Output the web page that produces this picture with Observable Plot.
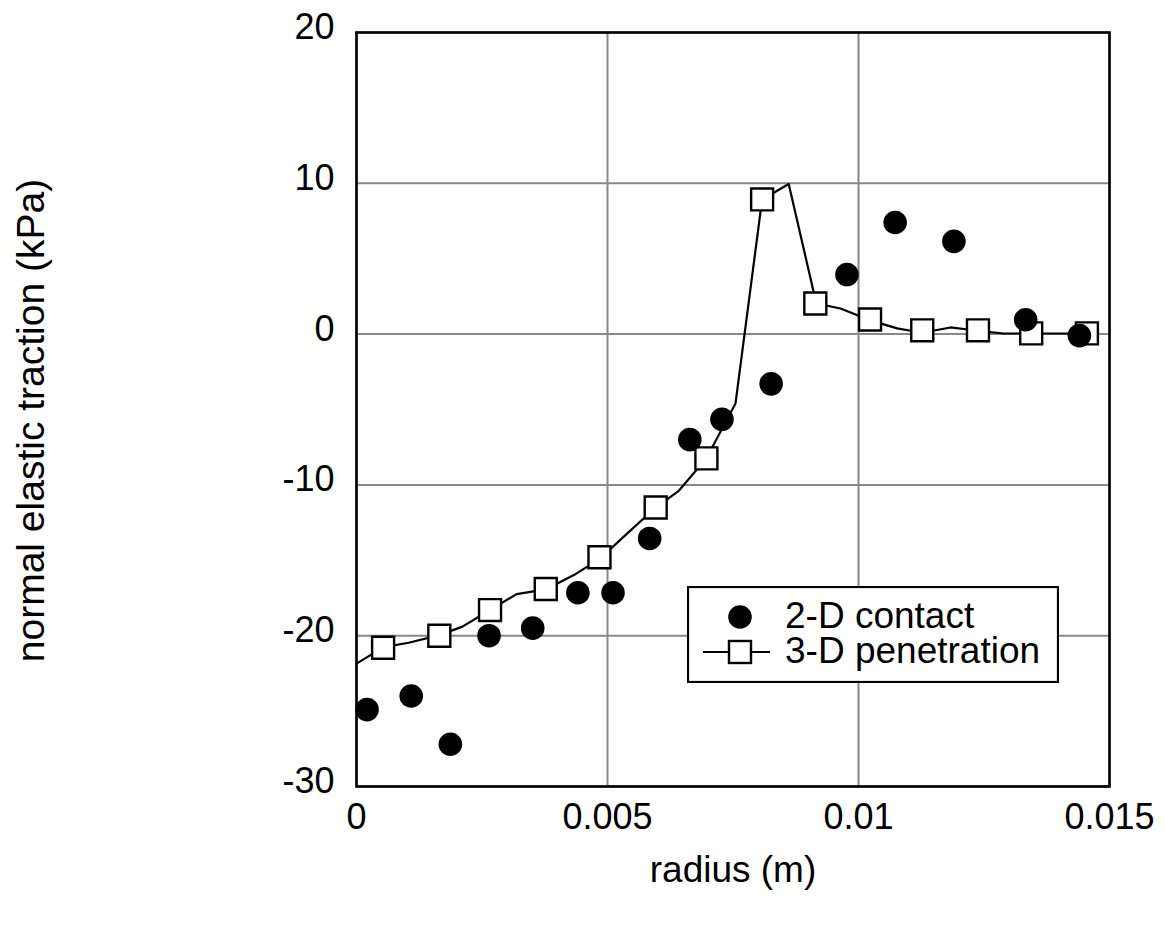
<!DOCTYPE html>
<html>
<head>
<meta charset="utf-8">
<script src="https://cdn.jsdelivr.net/npm/d3@7"></script>
<script src="https://cdn.jsdelivr.net/npm/@observablehq/plot@0.6"></script>
<style>
  html, body { margin: 0; padding: 0; background: #fff; }
  #wrap { position: relative; width: 1165px; height: 926px; font-family: "Liberation Sans", Arial, sans-serif; }
  #legend { position: absolute; left: 687px; top: 586px; }
</style>
</head>
<body>
<div id="wrap"></div>
<script>
// 2-D contact (filled circles)
const contactX = [0.00021, 0.00109, 0.00187, 0.00264, 0.00351, 0.00441, 0.00511, 0.00584, 0.00664, 0.00728, 0.00826, 0.00977, 0.01073, 0.0119, 0.01333, 0.0144];
const contactY = [-24.9, -24.0, -27.2, -20.0, -19.5, -17.15, -17.15, -13.55, -7.0, -5.65, -3.3, 3.95, 7.4, 6.15, 0.95, -0.1];

// 3-D penetration (line vertices)
const penLineX = [0, 0.00054, 0.00104, 0.00165, 0.00211, 0.00266, 0.00319, 0.00377, 0.00433, 0.00485, 0.0054, 0.00596, 0.00642, 0.00697, 0.00755, 0.00808, 0.00861, 0.00916, 0.00964, 0.01022, 0.01077, 0.01127, 0.01183, 0.01238, 0.01289, 0.01344, 0.01395, 0.01455];
const penLineY = [-21.85, -20.76, -20.47, -19.96, -19.4, -18.3, -17.24, -16.93, -15.98, -14.9, -13.2, -11.5, -10.39, -8.24, -4.6, 8.93, 9.95, 2.03, 1.7, 0.93, 0.38, 0.09, 0.44, 0.22, 0.04, 0.04, 0.04, 0.04];

// 3-D penetration (square markers)
const penMarkX = [0.00053, 0.00165, 0.00266, 0.00377, 0.00484, 0.00596, 0.00697, 0.00808, 0.00914, 0.01023, 0.01127, 0.01238, 0.01344, 0.01455];
const penMarkY = [-20.8, -20.0, -18.3, -16.9, -14.8, -11.5, -8.24, 8.93, 2.03, 0.97, 0.25, 0.25, 0.05, 0.05];

const xTicks = [0, 0.005, 0.01, 0.015];
const yTicks = [-30, -20, -10, 0, 10, 20];
const xLabel = "radius (m)";
const yLabel = "normal elastic traction (kPa)";
const seriesNames = ["2-D contact", "3-D penetration"];

const contact = contactX.map((x, i) => ({x, y: contactY[i]}));
const penLine = penLineX.map((x, i) => ({x, y: penLineY[i]}));
const penMark = penMarkX.map((x, i) => ({x, y: penMarkY[i]}));

const font = "Liberation Sans, Arial, sans-serif";

const chart = Plot.plot({
  width: 1165,
  height: 926,
  marginLeft: 356,
  marginRight: 56,
  marginTop: 32,
  marginBottom: 140,
  style: {fontFamily: font, background: "#fff", color: "#000"},
  x: {domain: [0, 0.015]},
  y: {domain: [-30, 20]},
  marks: [
    Plot.gridX(xTicks, {stroke: "#888", strokeOpacity: 1, strokeWidth: 2}),
    Plot.gridY(yTicks, {stroke: "#888", strokeOpacity: 1, strokeWidth: 2}),
    Plot.axisX(xTicks, {tickSize: 0, tickPadding: 17, fontSize: 36, tickFormat: d => String(d), label: null}),
    Plot.axisY(yTicks, {tickSize: 0, tickPadding: 22, fontSize: 36, dy: -5, tickFormat: d => String(d), label: null}),
    Plot.line(penLine, {x: "x", y: "y", stroke: "#000", strokeWidth: 2.2}),
    Plot.dot(penMark, {x: "x", y: "y", symbol: "square", r: 12.4, fill: "#fff", stroke: "#000", strokeWidth: 2.4}),
    Plot.dot(contact, {x: "x", y: "y", r: 11.8, fill: "#000", stroke: "none"}),
    Plot.frame({stroke: "#000", strokeWidth: 2.6}),
    Plot.text([xLabel], {frameAnchor: "bottom", dy: 95, fontSize: 37, fill: "#000"}),
    Plot.text([yLabel], {frameAnchor: "left", textAnchor: "middle", rotate: -90, dx: -325, dy: 11, fontSize: 39, fill: "#000"})
  ]
});

const wrap = document.getElementById("wrap");
wrap.appendChild(chart);

// Legend (SVG overlay)
const lw = 372, lh = 97;
const leg = d3.create("svg").attr("id", "legend").attr("width", lw).attr("height", lh)
  .style("font-family", font);
leg.append("rect").attr("x", 1).attr("y", 1).attr("width", lw - 2).attr("height", lh - 2)
  .attr("fill", "#fff").attr("stroke", "#000").attr("stroke-width", 2.2);
leg.append("circle").attr("cx", 53).attr("cy", 31).attr("r", 11.8).attr("fill", "#000");
leg.append("line").attr("x1", 16).attr("x2", 83).attr("y1", 66).attr("y2", 66)
  .attr("stroke", "#000").attr("stroke-width", 2.2);
leg.append("rect").attr("x", 42).attr("y", 55).attr("width", 22).attr("height", 22)
  .attr("fill", "#fff").attr("stroke", "#000").attr("stroke-width", 2.4);
leg.append("text").attr("x", 98).attr("y", 42).attr("font-size", 37).text(seriesNames[0]);
leg.append("text").attr("x", 98).attr("y", 77).attr("font-size", 37).text(seriesNames[1]);
wrap.appendChild(leg.node());
</script>
</body>
</html>
